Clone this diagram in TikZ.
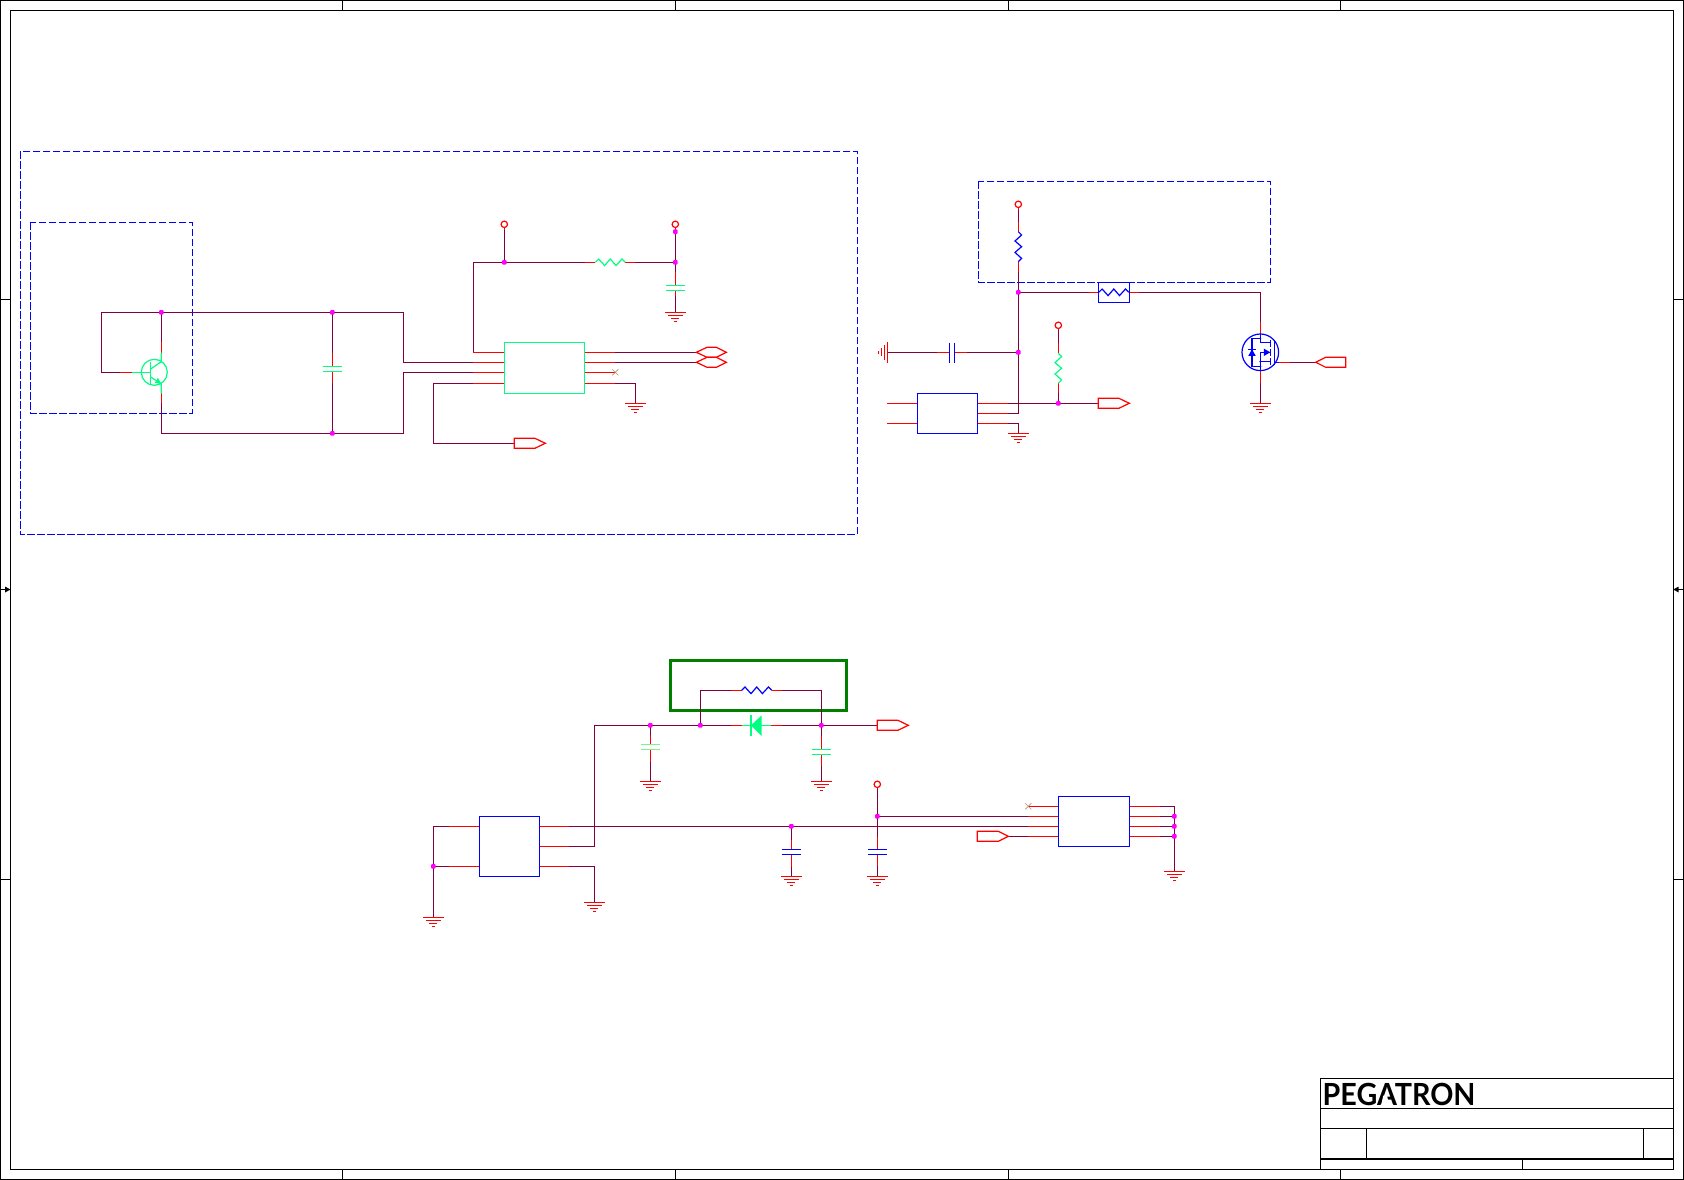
\documentclass[tikz,border=0pt]{standalone}
\usepackage{fontspec}
\newfontfamily\logofont{Lato}
\definecolor{wirec}{HTML}{800040}
\definecolor{pinred}{HTML}{FF0000}
\definecolor{jdot}{HTML}{FF00FF}
\definecolor{partg}{HTML}{00FF80}
\definecolor{partl}{HTML}{80F090}
\definecolor{partb}{HTML}{0000FF}
\definecolor{frameg}{HTML}{007F00}
\definecolor{xmark}{HTML}{B89070}
\tikzset{
 wire/.style={draw=wirec,line width=1.2pt},
 pinw/.style={draw=pinred,line width=1.2pt},
 gpart/.style={draw=partg,line width=1.2pt},
 lpart/.style={draw=partl,line width=1.2pt},
 bpart/.style={draw=partb,line width=1.2pt},
 frameline/.style={draw=black,line width=1.2pt},
 dashbox/.style={draw=partb,line width=1.2pt,dash pattern=on 7.5pt off 2.5pt},
 icbox/.style={rectangle,inner sep=0pt,outer sep=0pt,line width=1.2pt,fill=none},
 junc/.style={rectangle,rounded corners=1pt,fill=jdot,inner sep=0pt,minimum size=4.6pt},
 vcc/.style={circle,draw=pinred,line width=1.2pt,inner sep=0pt,minimum size=6.4pt,fill=white}
}
\newcommand{\GndD}[1]{\draw[pinw] (#1) +(-10.3,0) -- +(10.3,0) +(-7.3,3.2) -- +(7.3,3.2) +(-4,6.3) -- +(4,6.3) +(-1.5,9) -- +(1.5,9);}
\newcommand{\PortR}[1]{\draw[pinw] (#1) +(0,-5) -- +(20.6,-5) -- +(31,0) -- +(20.6,5) -- +(0,5) -- cycle;}
\newcommand{\PortL}[1]{\draw[pinw] (#1) -- +(10,-5) -- +(30,-5) -- +(30,5) -- +(10,5) -- cycle;}
\newcommand{\PortH}[1]{\draw[pinw] (#1) -- +(10.7,-5) -- +(20,-5) -- +(30,0) -- +(20,5) -- +(10.7,5) -- cycle;}
\newcommand{\ResH}[2]{\draw[#2] (#1) -- ++(3.3,-3.3) -- ++(6,6.6) -- ++(5.7,-6.6) -- ++(5.7,6.6) -- ++(6,-6.6) -- ++(3.3,3.3);}
\newcommand{\ResV}[2]{\draw[#2] (#1) -- ++(3.3,3.3) -- ++(-6.6,6) -- ++(6.6,5.7) -- ++(-6.6,5.7) -- ++(6.6,6) -- ++(-3.3,3.3);}
\newcommand{\CapH}[2]{\draw[#2] (#1) +(-9.5,0) -- +(9.5,0) +(-9.5,5) -- +(9.5,5);}
\newcommand{\XMark}[1]{\draw[xmark,line width=.7pt] (#1) +(-3,-3) -- +(3,3) +(-3,3) -- +(3,-3);}
\begin{document}
\begin{tikzpicture}[x=1pt,y=-1pt]
\useasboundingbox (0,0) rectangle (1684,1180);
\fill[white] (0,0) rectangle (1684,1180);
% ---- sheet frame
\draw[frameline] (0.6,0.6) rectangle (1683.4,1179.4);
\draw[frameline] (10.4,10.4) rectangle (1673.3,1169.3);
\foreach \tx in {342.6,675.5,1008.5,1340.6}{
 \draw[frameline] (\tx,0.6) -- (\tx,10.4);
 \draw[frameline] (\tx,1169.3) -- (\tx,1179.4);}
\foreach \ty in {299.5,879.6}{
 \draw[frameline] (0.6,\ty) -- (10.4,\ty);
 \draw[frameline] (1673.3,\ty) -- (1683.4,\ty);}
\draw[frameline] (0.6,589.5) -- (10.4,589.5) (1673.3,589.5) -- (1683.4,589.5);
\fill[black] (10.4,589.5) -- (5,586.5) -- (5,592.5) -- cycle;
\fill[black] (1673.3,589.5) -- (1678.7,586.5) -- (1678.7,592.5) -- cycle;
% ---- title block
\draw[frameline] (1320.3,1078.7) rectangle (1673.3,1169.3);
\draw[frameline] (1320.3,1108.3) -- (1673.3,1108.3);
\draw[frameline] (1320.3,1128.7) -- (1673.3,1128.7);
\draw[frameline] (1320.3,1159) -- (1673.3,1159);
\draw[frameline] (1366.3,1128.7) -- (1366.3,1159);
\draw[frameline] (1643.3,1128.7) -- (1643.3,1159);
\draw[frameline] (1522.3,1159) -- (1522.3,1169.3);
\node[anchor=base west,inner sep=0pt,text=black,xscale=.94] (logo) at (1322.5,1105) {\logofont\fontsize{30.5}{31}\selectfont\bfseries PEGATRON};
\fill[white] (1383.2,1095.5) -- (1387,1095.5) -- (1388.3,1101.5) -- (1382,1101.5) -- cycle;
% ---- dashed regions
\draw[dashbox] (20.3,151.3) rectangle (857.3,534.3);
\draw[dashbox] (30.3,222.3) rectangle (192.3,413.3);
\draw[dashbox] (978.3,181.3) rectangle (1270.3,282.3);
\draw[draw=frameg,line width=3pt] (670.3,660.3) rectangle (846.7,710.3);
% ---- named points
\foreach \n/\x/\y in {
 a1/101.3/312.3,a2/101.3/372.3,j1/161.3/312.3,j2/332.3/312.3,b1/403.3/312.3,b2/403.3/362.3,
 b3/403.3/372.3,b4/403.3/433.3,j3/332.3/433.3,e1/161.3/433.3,ce/161.3/403.3,cc/161.3/342.3,
 qb/120.3/372.3,c0a/332.3/366.3,c0b/332.3/371.3,
 ul1/504.3/352.3,ul2/504.3/362.3,ul3/504.3/372.3,ul4/504.3/383.3,
 ur1/584.7/352.3,ur2/584.7/362.3,ur3/584.7/372.3,ur4/584.7/383.3,
 n1/473.3/352.3,n2/473.3/262.3,j4/504.3/262.3,j5/675.3/262.3,j6/675.3/231.7,v1/504.3/224.3,v2/675.3/224.3,
 r1a/595.3/262.3,r1b/625.3/262.3,g1/675.3/312.3,c2a/675.3/285.3,c2b/675.3/290.3,
 n3/433.3/383.3,n4/433.3/443.3,p1/514.3/443.3,
 h1/696.3/352.3,h2/696.3/362.3,x1/615.3/372.3,n5/635.3/383.3,g2/635.3/403.3,
 v3/1018.3/204.3,j7/1018.3/292.3,j8/1018.3/352.3,n6/1018.3/413.3,n7/1018.3/423.3,g3/1018.3/433.3,
 r2a/1018.3/231.7,r2b/1018.3/261.7,
 f1/1098.3/292.3,f2/1129.3/292.3,m1/1260.3/292.3,m2/1260.3/333.9,m3/1260.3/370.7,g4/1260.3/403.3,
 mg/1278.5/362.3,p2/1315.7/362.3,
 c1a/954.3/352.3,c1b/949.3/352.3,g5/887.7/352.3,
 vl1/917.3/403.3,vl2/917.3/423.3,vr1/977.7/403.3,vr2/977.7/413.3,vr3/977.7/423.3,
 j9/1058.3/403.3,p3/1098.3/403.3,v4/1058.3/325.3,r3a/1058.3/353.3,r3b/1058.3/382.7,
 n8/594.3/725.3,j10/650.3/725.3,j11/700.3/725.3,j12/821.3/725.3,p4/877.3/725.3,
 t1/700.3/690.3,t2/821.3/690.3,r4a/741.7/690.3,r4b/771.7/690.3,
 d1/741.7/725.3,d2/770.7/725.3,c3a/650.3/744.3,c3b/650.3/749.3,c4a/821.3/749.3,c4b/821.3/754.3,
 g6/650.3/781.3,g7/821.3/781.3,
 il1/479.3/826.3,il2/479.3/866.3,ir1/539.3/826.3,ir2/539.3/846.3,ir3/539.3/866.3,
 n9/433.3/826.3,j13/433.3/866.3,g8/433.3/917.3,
 n10/594.3/846.3,n11/594.3/866.3,g9/594.3/902.3,
 j14/791.3/826.3,g10/791.3/876.3,c5a/791.3/849.3,c5b/791.3/854.3,
 j15/877.3/816.3,n12/877.3/826.3,v5/877.3/784.3,g11/877.3/876.3,c6a/877.3/849.3,c6b/877.3/854.3,
 kl1/1058.3/806.3,kl2/1058.3/816.3,kl3/1058.3/826.3,kl4/1058.3/836.3,
 kr1/1129.3/806.3,kr2/1129.3/816.3,kr3/1129.3/826.3,kr4/1129.3/836.3,
 s1/1174.3/806.3,j16/1174.3/816.3,j17/1174.3/826.3,j18/1174.3/836.3,g12/1174.3/871.3,
 x2/1028.3/806.3,p5/1008.3/836.3}{\coordinate (\n) at (\x,\y);}
% ---- wires
\draw[wire] (a2) -- (a1) -- (j1) -- (j2) -- (b1) -- (b2) -- (ul2);
\draw[wire] (a2) -- (qb);
\draw[wire] (j1) -- (cc);
\draw[wire] (ce) -- (e1) -- (j3) -- (b4) -- (b3) -- (ul3);
\draw[wire] (j2) -- (c0a);
\draw[wire] (c0b) -- (j3);
\draw[wire] (ul1) -- (n1) -- (n2) -- (j4) -- (r1a);
\draw[wire] (r1b) -- (j5);
\draw[wire] (v1) -- (j4);
\draw[wire] (v2) -- (j5) -- (c2a);
\draw[wire] (c2b) -- (g1);
\draw[wire] (ul4) -- (n3) -- (n4) -- (p1);
\draw[wire] (ur1) -- (h1);
\draw[wire] (ur2) -- (h2);
\draw[wire] (ur4) -- (n5) -- (g2);
\draw[wire] (v3) -- (r2a);
\draw[wire] (r2b) -- (j7) -- (j8) -- (n6) -- (vr2);
\draw[wire] (vr3) -- (n7) -- (g3);
\draw[wire] (j7) -- (f1);
\draw[wire] (f2) -- (m1) -- (m2);
\draw[wire] (m3) -- (g4);
\draw[wire] (mg) -- (p2);
\draw[wire] (j8) -- (c1a);
\draw[wire] (c1b) -- (g5);
\draw[wire] (vr1) -- (j9) -- (p3);
\draw[wire] (v4) -- (r3a);
\draw[wire] (r3b) -- (j9);
\draw[wire] (ir2) -- (n10) -- (n8) -- (j10) -- (j11) -- (d1);
\draw[wire] (d2) -- (j12) -- (p4);
\draw[wire] (j11) -- (t1) -- (r4a);
\draw[wire] (r4b) -- (t2) -- (j12);
\draw[wire] (j10) -- (c3a);
\draw[wire] (c3b) -- (g6);
\draw[wire] (j12) -- (c4a);
\draw[wire] (c4b) -- (g7);
\draw[wire] (il1) -- (n9) -- (j13) -- (g8);
\draw[wire] (j13) -- (il2);
\draw[wire] (ir3) -- (n11) -- (g9);
\draw[wire] (ir1) -- (j14) -- (n12) -- (kl3);
\draw[wire] (j14) -- (c5a);
\draw[wire] (c5b) -- (g10);
\draw[wire] (v5) -- (j15) -- (n12) -- (c6a);
\draw[wire] (c6b) -- (g11);
\draw[wire] (j15) -- (kl2);
\draw[wire] (p5) -- (kl4);
\draw[wire] (kr1) -- (s1) -- (j16) -- (j17) -- (j18) -- (g12);
\draw[wire] (kr2) -- (j16);
\draw[wire] (kr3) -- (j17);
\draw[wire] (kr4) -- (j18);
% ---- red pin stubs
\draw[pinw] (qb) -- ++(11.4,0);
\draw[pinw] (cc) -- ++(0,10.4);
\draw[pinw] (ce) -- ++(0,-10);
\draw[pinw] (c0a) -- ++(0,-13.6);
\draw[pinw] (c0b) -- ++(0,11.4);
\foreach \p in {ul1,ul2,ul3,ul4}{\draw[pinw] (\p) -- ++(-31,0);}
\foreach \p in {ur1,ur2,ur3,ur4}{\draw[pinw] (\p) -- ++(30.3,0);}
\draw[pinw] (r1a) -- ++(-10,0);
\draw[pinw] (r1b) -- ++(10,0);
\draw[pinw] (c2a) -- ++(0,-13.6);
\draw[pinw] (c2b) -- ++(0,6);
\draw[pinw] (v1) -- ++(0,6);
\draw[pinw] (v2) -- ++(0,7);
\draw[pinw] (v3) -- ++(0,6);
\draw[pinw] (r2a) -- ++(0,-10);
\draw[pinw] (r2b) -- ++(0,10);
\draw[pinw] (f1) -- ++(-9,0);
\draw[pinw] (f2) -- ++(10,0);
\draw[pinw] (m2) -- ++(0,-11.6);
\draw[pinw] (m3) -- ++(0,12.6);
\draw[pinw] (mg) -- ++(11.5,0);
\draw[pinw] (c1a) -- ++(12.7,0);
\draw[pinw] (c1b) -- ++(-12,0);
\foreach \p in {vl1,vl2}{\draw[pinw] (\p) -- ++(-30.3,0);}
\foreach \p in {vr1,vr2,vr3}{\draw[pinw] (\p) -- ++(30.6,0);}
\draw[pinw] (v4) -- ++(0,5);
\draw[pinw] (r3a) -- ++(0,-10);
\draw[pinw] (r3b) -- ++(0,10);
\draw[pinw] (d1) -- ++(-11,0);
\draw[pinw] (d2) -- ++(11,0);
\draw[pinw] (r4a) -- ++(-11,0);
\draw[pinw] (r4b) -- ++(10,0);
\draw[pinw] (c3a) -- ++(0,-9);
\draw[pinw] (c3b) -- ++(0,12.4);
\draw[pinw] (c4a) -- ++(0,-13.3);
\draw[pinw] (c4b) -- ++(0,11.7);
\foreach \p in {il1,il2}{\draw[pinw] (\p) -- ++(-30.3,0);}
\foreach \p in {ir1,ir2,ir3}{\draw[pinw] (\p) -- ++(30,0);}
\draw[pinw] (c5a) -- ++(0,-9.3);
\draw[pinw] (c5b) -- ++(0,12.4);
\draw[pinw] (v5) -- ++(0,5);
\draw[pinw] (c6a) -- ++(0,-12.6);
\draw[pinw] (c6b) -- ++(0,11.7);
\foreach \p in {kl1,kl2,kl3,kl4}{\draw[pinw] (\p) -- ++(-30,0);}
\foreach \p in {kr1,kr2,kr3,kr4}{\draw[pinw] (\p) -- ++(30.7,0);}
% ---- grounds
\foreach \g in {g1,g2,g3,g4,g6,g7,g8,g9,g10,g11,g12}{\GndD{\g}}
\draw[pinw] (g5) +(0,-10.3) -- +(0,10.3) +(-3.2,-7.3) -- +(-3.2,7.3) +(-6.3,-4) -- +(-6.3,4) +(-9,-1.5) -- +(-9,1.5);
% ---- ports
\PortR{p1}\PortR{p3}\PortR{p4}
\draw[pinw] (977.3,831.3) -- (998.3,831.3) -- (p5) -- (998.3,841.3) -- (977.3,841.3) -- cycle;
\PortL{p2}
\PortH{h1}\PortH{h2}
\XMark{x1}\XMark{x2}
% ---- supply circles
\foreach \c in {v1,v2,v3,v4,v5}{\node[vcc] (top\c) at (\c) {};}
% ---- ICs
\node[icbox,draw=partg,minimum width=80.4pt,minimum height=51pt] (u1) at (544.5,367.8) {};
\node[icbox,draw=partb,minimum width=60.4pt,minimum height=40pt] (u2) at (947.5,413.3) {};
\node[icbox,draw=partb,minimum width=60pt,minimum height=60pt] (u3) at (509.3,846.3) {};
\node[icbox,draw=partb,minimum width=71pt,minimum height=50pt] (u4) at (1093.8,821.3) {};
\node[icbox,draw=partb,minimum width=31pt,minimum height=20pt] (f0) at (1113.8,292.3) {};
% ---- resistors
\ResH{r1a}{gpart}
\ResV{r2a}{bpart}
\ResV{r3a}{gpart}
\ResH{r4a}{bpart}
\ResH{1098.8,292.3}{bpart}
% ---- capacitors
\CapH{c0a}{gpart}
\CapH{c2a}{gpart}
\CapH{c3a}{lpart}
\CapH{c4a}{gpart}
\CapH{c5a}{bpart}
\CapH{c6a}{bpart}
\draw[bpart] (954.3,342.7) -- (954.3,362.7) (949.3,342.7) -- (949.3,362.7);
% ---- transistor
\draw[gpart] (154.3,372.3) circle (13);
\draw[gpart] (131.7,372.3) -- (150.3,372.3);
\draw[gpart] (150.3,362.3) -- (150.3,385.3);
\draw[gpart] (161.3,352.7) -- (161.3,361.7) -- (150.3,369.3);
\draw[gpart] (150.3,376.7) -- (161.3,384) -- (161.3,393.3);
\fill[partg] (161.3,384) -- (154.8,382.8) -- (158,377.8) -- cycle;
% ---- diode
\draw[gpart] (d1) -- (d2);
\draw[gpart] (751,715.3) -- (751,735.8);
\fill[partg] (751,725.3) -- (761.7,715.3) -- (761.7,736) -- cycle;
% ---- MOSFET
\begin{scope}[shift={(1260.3,352.3)}]
\draw[bpart] (0,0) circle (18.3);
\draw[bpart] (0,-18.3) -- (0,-9.7) -- (10,-9.7);
\draw[bpart] (0,-14) -- (-8.3,-14) -- (-8.3,14.3) -- (0,14.3);
\draw[bpart] (-12,-3) -- (-4.6,-3);
\fill[partb] (-8.3,-3) -- (-12,3.5) -- (-4.6,3.5) -- cycle;
\draw[bpart] (0,18.3) -- (0,0) -- (10,0) (0,9.3) -- (10,9.3);
\fill[partb] (10,0) -- (3.5,-3.7) -- (3.5,3.7) -- cycle;
\draw[bpart] (10,-12) -- (10,-5) (10,-3.7) -- (10,3.7) (10,6) -- (10,13);
\draw[bpart] (14,-12) -- (14,13) (14,10) -- (18.3,10);
\fill[partb] (0,-14) circle (1.1) (0,9.3) circle (1.1) (0,14.3) circle (1.1);
\end{scope}
% ---- junction dots
\foreach \j in {j1,j2,j3,j4,j5,j6,j7,j8,j9,j10,j11,j12,j13,j14,j15,j16,j17,j18}{\node[junc] (dot\j) at (\j) {};}
\end{tikzpicture}
\end{document}
